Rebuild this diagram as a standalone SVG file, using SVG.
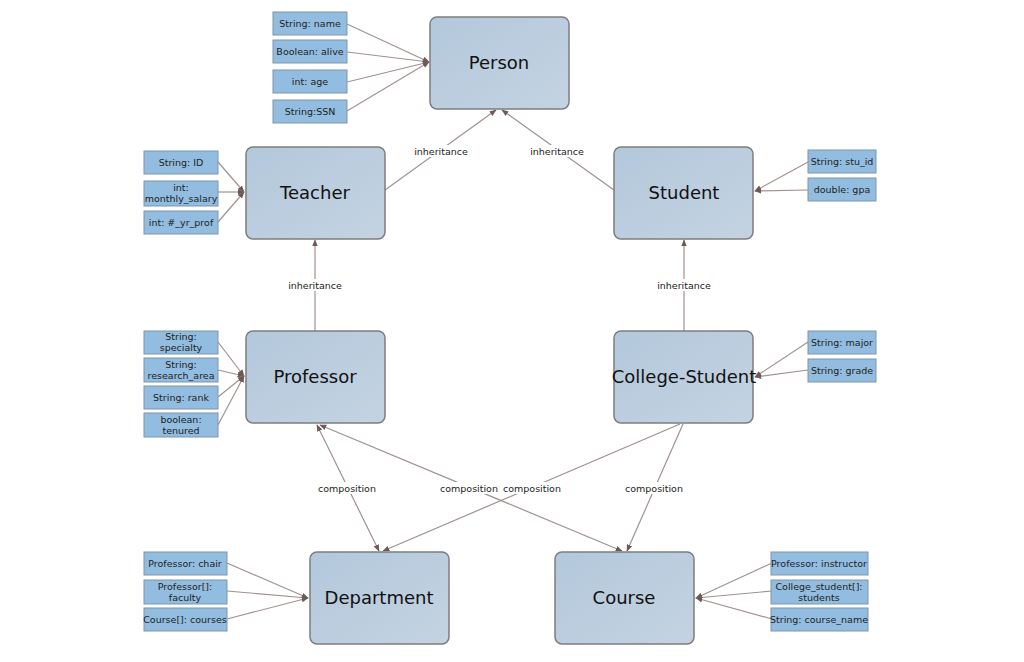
<svg xmlns="http://www.w3.org/2000/svg" width="1024" height="662" viewBox="0 0 1024 662">
<style>
.n{fill:url(#g);stroke:#7d7d7d;stroke-width:1.5}
.a{fill:#93bde0;stroke:#7f95a8;stroke-width:1}
.t{font-family:"DejaVu Sans",sans-serif;font-size:18px;fill:#111;text-anchor:middle}
.s{font-family:"DejaVu Sans",sans-serif;font-size:9.5px;fill:#222;text-anchor:middle}
.l{font-family:"DejaVu Sans",sans-serif;font-size:9.5px;fill:#222;text-anchor:middle}
.c line{stroke:#a09290;stroke-width:1.2;marker-end:url(#m)}
.c line.b{marker-start:url(#m)}
.lb{fill:#fff}
</style>
<defs>
<linearGradient id="g" x1="0" y1="0" x2="1" y2="1"><stop offset="0" stop-color="#b3c8dc"/><stop offset="1" stop-color="#c4d3e1"/></linearGradient>
<marker id="m" viewBox="0 0 10 10" refX="9" refY="5" markerWidth="7" markerHeight="7" orient="auto-start-reverse" markerUnits="userSpaceOnUse"><path d="M0,1 L10,5 L0,9 Z" fill="#6e5a55"/></marker>
</defs>
<rect width="1024" height="662" fill="#fff"/>
<g class="c">
<line x1="347" y1="24" x2="429" y2="62"/><line x1="347" y1="52" x2="429" y2="62"/><line x1="347" y1="82" x2="429" y2="62"/><line x1="347" y1="111" x2="429" y2="62"/>
<line x1="218" y1="162" x2="244" y2="192"/><line x1="218" y1="192" x2="244" y2="192"/><line x1="218" y1="222" x2="244" y2="192"/>
<line x1="808" y1="162" x2="755" y2="191"/><line x1="808" y1="190" x2="755" y2="191"/>
<line x1="218" y1="342" x2="244" y2="376"/><line x1="218" y1="370" x2="244" y2="376"/><line x1="218" y1="397" x2="244" y2="376"/><line x1="218" y1="425" x2="244" y2="376"/>
<line x1="808" y1="342" x2="755" y2="377"/><line x1="808" y1="370" x2="755" y2="377"/>
<line x1="227" y1="563" x2="308" y2="598"/><line x1="227" y1="591" x2="308" y2="598"/><line x1="227" y1="619" x2="308" y2="598"/>
<line x1="772" y1="563" x2="696" y2="598"/><line x1="772" y1="591" x2="696" y2="598"/><line x1="772" y1="619" x2="696" y2="598"/>
<line x1="385" y1="190" x2="496" y2="110"/>
<line x1="614" y1="190" x2="502" y2="110"/>
<line x1="315" y1="331" x2="315" y2="240"/>
<line x1="684" y1="331" x2="684" y2="240"/>
<line class="b" x1="317" y1="425" x2="379" y2="551"/>
<line class="b" x1="320" y1="425" x2="622" y2="551"/>
<line x1="680" y1="424" x2="383" y2="551"/>
<line x1="683" y1="424" x2="627" y2="551"/>
<rect class="lb" x="415" y="145" width="52" height="12"/><text class="l" x="441" y="155">inheritance</text>
<rect class="lb" x="531" y="145" width="52" height="12"/><text class="l" x="557" y="155">inheritance</text>
<rect class="lb" x="289" y="279" width="52" height="12"/><text class="l" x="315" y="289">inheritance</text>
<rect class="lb" x="658" y="279" width="52" height="12"/><text class="l" x="684" y="289">inheritance</text>
<rect class="lb" x="320" y="482" width="54" height="12"/><text class="l" x="347" y="492">composition</text>
<rect class="lb" x="443" y="482" width="54" height="12"/><text class="l" x="469" y="492">composition</text>
<rect class="lb" x="505" y="482" width="54" height="12"/><text class="l" x="532" y="492">composition</text>
<rect class="lb" x="627" y="482" width="54" height="12"/><text class="l" x="654" y="492">composition</text>
</g>
<g id="person"><rect class="n" x="430" y="17" width="139" height="92" rx="7"/><text class="t" x="499" y="69">Person</text></g>
<g id="teacher"><rect class="n" x="246" y="147" width="139" height="92" rx="7"/><text class="t" x="315" y="199">Teacher</text></g>
<g id="student"><rect class="n" x="614" y="147" width="139" height="92" rx="7"/><text class="t" x="684" y="199">Student</text></g>
<g id="professor"><rect class="n" x="246" y="331" width="139" height="92" rx="7"/><text class="t" x="315" y="383">Professor</text></g>
<g id="college-student"><rect class="n" x="614" y="331" width="139" height="92" rx="7"/><text class="t" x="684" y="383">College-Student</text></g>
<g id="department"><rect class="n" x="310" y="552" width="139" height="92" rx="7"/><text class="t" x="379" y="604">Department</text></g>
<g id="course"><rect class="n" x="555" y="552" width="139" height="92" rx="7"/><text class="t" x="624" y="604">Course</text></g>
<g id="person-attrs">
<rect class="a" x="273" y="12" width="74" height="23"/><text class="s" x="310" y="27">String: name</text>
<rect class="a" x="273" y="40" width="74" height="23"/><text class="s" x="310" y="55">Boolean: alive</text>
<rect class="a" x="273" y="70" width="74" height="23"/><text class="s" x="310" y="85">int: age</text>
<rect class="a" x="273" y="100" width="74" height="23"/><text class="s" x="310" y="115">String:SSN</text>
</g>
<g id="teacher-attrs">
<rect class="a" x="144" y="151" width="74" height="23"/><text class="s" x="181" y="166">String: ID</text>
<rect class="a" x="144" y="181" width="74" height="25"/><text class="s" x="181" y="191">int:</text><text class="s" x="181" y="202">monthly_salary</text>
<rect class="a" x="144" y="211" width="74" height="23"/><text class="s" x="181" y="226">int: #_yr_prof</text>
</g>
<g id="student-attrs">
<rect class="a" x="808" y="150" width="68" height="23"/><text class="s" x="842" y="165">String: stu_id</text>
<rect class="a" x="808" y="178" width="68" height="23"/><text class="s" x="842" y="193">double: gpa</text>
</g>
<g id="professor-attrs">
<rect class="a" x="144" y="331" width="74" height="23"/><text class="s" x="181" y="340">String:</text><text class="s" x="181" y="351">specialty</text>
<rect class="a" x="144" y="358" width="74" height="24"/><text class="s" x="181" y="368">String:</text><text class="s" x="181" y="379">research_area</text>
<rect class="a" x="144" y="386" width="74" height="23"/><text class="s" x="181" y="401">String: rank</text>
<rect class="a" x="144" y="413" width="74" height="24"/><text class="s" x="181" y="423">boolean:</text><text class="s" x="181" y="434">tenured</text>
</g>
<g id="college-student-attrs">
<rect class="a" x="808" y="331" width="68" height="23"/><text class="s" x="842" y="346">String: major</text>
<rect class="a" x="808" y="359" width="68" height="23"/><text class="s" x="842" y="374">String: grade</text>
</g>
<g id="department-attrs">
<rect class="a" x="144" y="552" width="83" height="23"/><text class="s" x="185" y="567">Professor: chair</text>
<rect class="a" x="144" y="580" width="83" height="24"/><text class="s" x="185" y="590">Professor[]:</text><text class="s" x="185" y="601">faculty</text>
<rect class="a" x="144" y="608" width="83" height="23"/><text class="s" x="185" y="623">Course[]: courses</text>
</g>
<g id="course-attrs">
<rect class="a" x="771" y="552" width="97" height="23"/><text class="s" x="819" y="567">Professor: instructor</text>
<rect class="a" x="771" y="580" width="97" height="24"/><text class="s" x="819" y="590">College_student[]:</text><text class="s" x="819" y="601">students</text>
<rect class="a" x="771" y="608" width="97" height="23"/><text class="s" x="819" y="623">String: course_name</text>
</g>
</svg>
